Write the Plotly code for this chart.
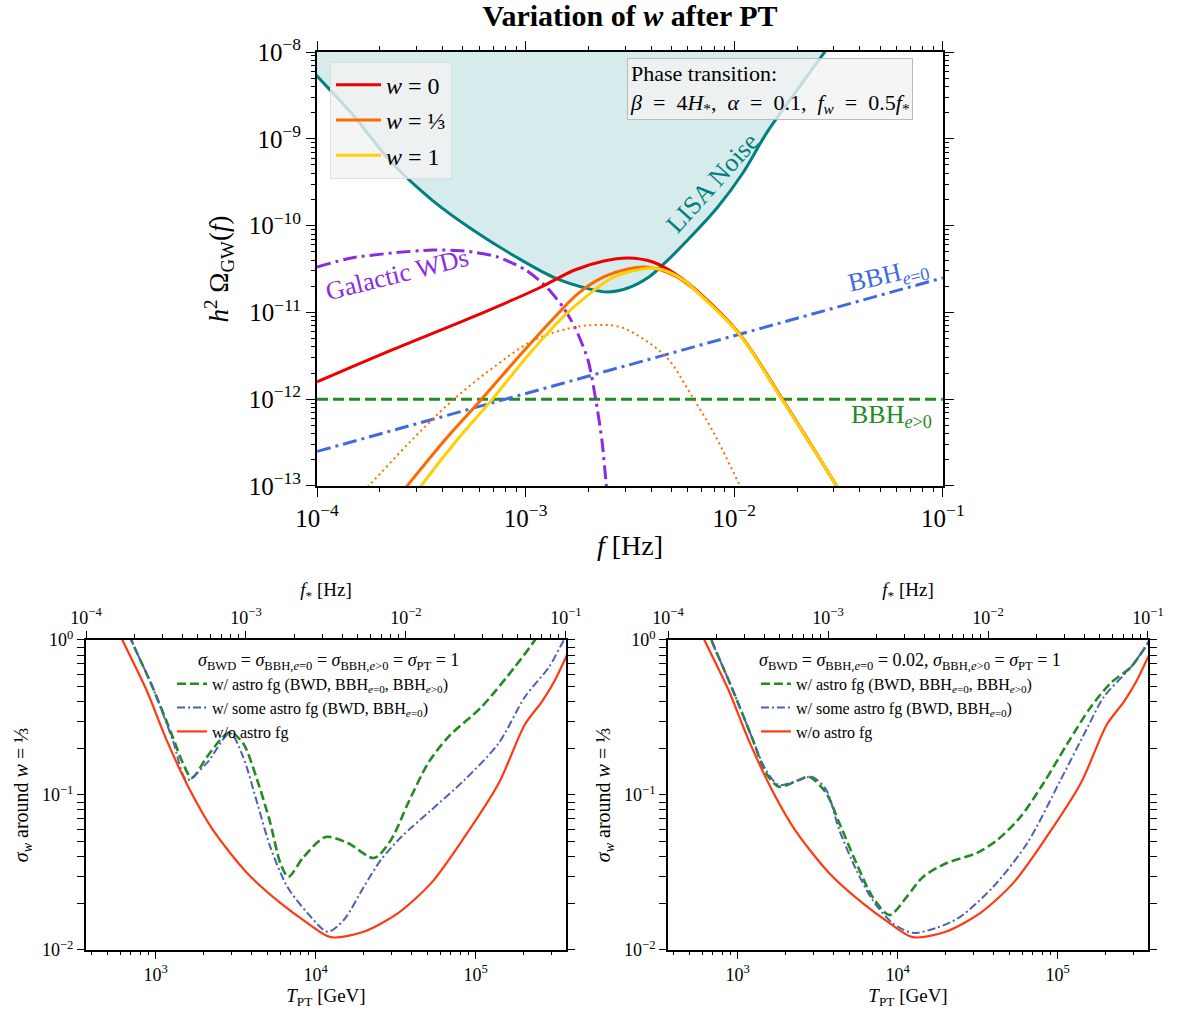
import plotly.graph_objects as go

# ---- top panel: h^2 Omega_GW(f) for different w after the PT ----
f_w0 = [1e-4, 2.29e-4, 5.59e-4, 1.16e-3, 1.72e-3, 2.37e-3, 3.09e-3, 4.07e-3, 5.31e-3,
        6.84e-3, 1.05e-2, 1.71e-2, 3.1e-2, 3.5e-2]
om_w0 = [1.58e-12, 3.69e-12, 8.85e-12, 1.91e-11, 3.08e-11, 3.91e-11, 4.23e-11, 3.81e-11, 2.70e-11,
         1.66e-11, 5.8e-12, 9.8e-13, 1.0e-13, 6.3e-14]

f_w13 = [2.5e-4, 2.73e-4, 4.10e-4, 6.10e-4, 9.6e-4, 1.38e-3, 1.80e-3, 2.37e-3, 3.09e-3, 3.73e-3,
         4.45e-3, 5.31e-3, 6.84e-3, 1.05e-2, 1.71e-2, 3.1e-2, 3.5e-2]
om_w13 = [7.9e-14, 1.03e-13, 3.39e-13, 9.8e-13, 3.40e-12, 8.85e-12, 1.68e-11, 2.56e-11, 3.16e-11, 3.33e-11,
          3.08e-11, 2.56e-11, 1.62e-11, 5.75e-12, 9.7e-13, 1.0e-13, 6.3e-14]

f_w1 = [2.9e-4, 3.18e-4, 4.69e-4, 6.75e-4, 1.05e-3, 1.51e-3, 1.99e-3, 2.59e-3, 3.41e-3, 4.07e-3,
        4.86e-3, 5.8e-3, 6.84e-3, 1.05e-2, 1.71e-2, 3.1e-2, 3.5e-2]
om_w1 = [7.5e-14, 1.03e-13, 3.39e-13, 9.3e-13, 3.40e-12, 8.85e-12, 1.58e-11, 2.49e-11, 3.08e-11, 3.25e-11,
         2.92e-11, 2.3e-11, 1.6e-11, 5.7e-12, 9.6e-13, 1.0e-13, 6.3e-14]

f_w13_dot = [1.6e-4, 1.82e-4, 2.85e-4, 4.49e-4, 7.05e-4, 1.10e-3, 1.65e-3, 2.17e-3, 2.83e-3, 3.73e-3,
             4.86e-3, 6.13e-3, 7.98e-3, 1.05e-2, 1.15e-2]
om_w13_dot = [7.9e-14, 1.08e-13, 3.39e-13, 9.8e-13, 2.35e-12, 4.81e-12, 6.61e-12, 7.16e-12, 6.79e-12, 4.81e-12,
              2.83e-12, 1.18e-12, 4.08e-13, 1.08e-13, 7e-14]

f_gwd = [1e-4, 1.46e-4, 2.29e-4, 3.56e-4, 5.12e-4, 7.36e-4, 1.00e-3, 1.26e-3, 1.51e-3, 1.72e-3,
         1.99e-3, 2.17e-3, 2.32e-3, 2.43e-3, 2.5e-3]
om_gwd = [3.33e-11, 4.24e-11, 4.83e-11, 5.24e-11, 5.09e-11, 4.34e-11, 3.08e-11, 1.96e-11, 1.15e-11, 6.79e-12,
          2.83e-12, 9.8e-13, 3.39e-13, 1.08e-13, 5e-14]

f_lisa = [9e-5, 1.01e-4, 1.46e-4, 2.29e-4, 3.56e-4, 5.59e-4, 8.79e-4, 1.38e-3, 1.99e-3, 2.48e-3,
          3.09e-3, 3.90e-3, 4.65e-3, 5.79e-3, 8.34e-3, 1.10e-2, 1.43e-2, 1.89e-2, 2.69e-2, 3.0e-2]
om_lisa = [7e-9, 5.15e-9, 1.98e-9, 5.26e-10, 1.97e-10, 8.9e-11, 4.5e-11, 2.5e-11, 1.88e-11, 1.72e-11,
           1.91e-11, 2.56e-11, 3.71e-11, 6.3e-11, 1.64e-10, 4.04e-10, 1.17e-9, 3.03e-9, 9.7e-9, 1.39e-8]
om_lisa_cap = 1e-6  # fill goes up past the top of the axis

f_bbh = [1e-4, 1e-1]
om_bbh_e0 = [2.5e-13, 2.5e-11]
om_bbh_ecc = [1e-12, 1e-12]

# ---- bottom panels: sigma_w vs T_PT ----
t_nofg = [560, 620, 877, 1172, 1636, 2281, 3730, 6020, 8910, 12420, 20000, 32800, 52900, 85300,
          139600, 203300, 260000, 314000, 373000, 400000]
sig_nofg = [1.26, 1.0, 0.476, 0.226, 0.108, 0.0595, 0.0314, 0.0201, 0.0149, 0.0121, 0.0131, 0.0173,
            0.0271, 0.0536, 0.119, 0.285, 0.40, 0.552, 0.80, 0.92]

t_some_l = [650, 706, 957, 1279, 1567, 2094, 2920, 3524, 4316, 5210, 6670, 8910, 11900, 15000, 20000,
            25600, 34300, 52900, 85300, 139600, 203300, 288000, 357000, 400000]
sig_some_l = [1.3, 1.0, 0.497, 0.226, 0.125, 0.161, 0.251, 0.176, 0.0888, 0.0462, 0.0255, 0.0173, 0.0131,
              0.0156, 0.0255, 0.0381, 0.0536, 0.080, 0.125, 0.216, 0.429, 0.67, 1.0, 1.2]

t_all_l = [650, 706, 957, 1279, 1479, 1683, 2094, 2530, 2920, 3524, 4316, 5210, 6020, 6760, 8410, 11560,
           15900, 23200, 29600, 37900, 50600, 67600, 109000, 176000, 235000, 260000]
sig_all_l = [1.3, 1.0, 0.497, 0.237, 0.161, 0.129, 0.176, 0.226, 0.255, 0.216, 0.125, 0.066, 0.0364, 0.0296,
             0.0398, 0.0536, 0.049, 0.0392, 0.0513, 0.0888, 0.161, 0.237, 0.370, 0.67, 1.0, 1.2]

t_some_r = [650, 686, 916, 1225, 1500, 1811, 2420, 2920, 3575, 4316, 5520, 6970, 9300, 12420, 17600,
            24500, 39500, 64700, 104400, 154500, 194500, 288000, 368000, 400000]
sig_some_r = [1.2, 1.0, 0.497, 0.237, 0.145, 0.116, 0.125, 0.131, 0.108, 0.0595, 0.0328, 0.0210, 0.0149,
              0.0129, 0.0139, 0.0163, 0.0255, 0.049, 0.125, 0.275, 0.429, 0.67, 0.96, 1.1]

t_all_r = [650, 686, 916, 1225, 1500, 1811, 2420, 2800, 3575, 4316, 5520, 6970, 8910, 11400, 14400, 20300,
           31400, 42000, 58500, 81600, 115600, 161400, 215000, 288000, 368000, 400000]
sig_all_r = [1.2, 1.0, 0.497, 0.237, 0.139, 0.113, 0.125, 0.131, 0.103, 0.066, 0.0364, 0.022, 0.0168, 0.022,
             0.0296, 0.0364, 0.0423, 0.0513, 0.072, 0.119, 0.216, 0.370, 0.528, 0.67, 0.96, 1.1]

f_star_range = [1e-4, 1e-1]

FONT = "Liberation Serif"
RED, ORANGE, GOLD = "#ee0000", "#ff6a00", "#ffd000"
TEAL, PURPLE, BLUE, GREEN = "#008080", "#8a2be2", "#4169e1", "#228b22"
B_GREEN, B_BLUE, B_RED = "#228b22", "#4a62b4", "#ff3a10"

fig = go.Figure()

# LISA noise band
fig.add_trace(go.Scatter(x=f_lisa + [f_lisa[-1], f_lisa[0]], y=om_lisa + [om_lisa_cap, om_lisa_cap],
                         fill="toself", fillcolor="rgba(0,128,128,0.16)", line=dict(width=0),
                         mode="lines", showlegend=False, hoverinfo="skip"))
fig.add_trace(go.Scatter(x=f_lisa, y=om_lisa, mode="lines", line=dict(color=TEAL, width=3, shape="spline"),
                         showlegend=False))
fig.add_trace(go.Scatter(x=f_bbh, y=om_bbh_ecc, mode="lines", line=dict(color=GREEN, width=3, dash="11px,5px"),
                         showlegend=False))
fig.add_trace(go.Scatter(x=f_bbh, y=om_bbh_e0, mode="lines",
                         line=dict(color=BLUE, width=3, dash="14px,5px,3px,5px"), showlegend=False))
fig.add_trace(go.Scatter(x=f_gwd, y=om_gwd, mode="lines",
                         line=dict(color=PURPLE, width=3, dash="14px,5px,3px,5px", shape="spline", smoothing=0.7),
                         showlegend=False))
fig.add_trace(go.Scatter(x=f_w13_dot, y=om_w13_dot, mode="lines",
                         line=dict(color=ORANGE, width=2, dash="2px,3.5px", shape="spline"), showlegend=False))
fig.add_trace(go.Scatter(x=f_w0, y=om_w0, mode="lines", name="<i>w</i> = 0", legendgroup="a",
                         line=dict(color=RED, width=3, shape="spline")))
fig.add_trace(go.Scatter(x=f_w13, y=om_w13, mode="lines", name="<i>w</i> = ⅓", legendgroup="b",
                         line=dict(color=ORANGE, width=3, shape="spline")))
fig.add_trace(go.Scatter(x=f_w1, y=om_w1, mode="lines", name="<i>w</i> = 1", legendgroup="c",
                         line=dict(color=GOLD, width=3, shape="spline")))

# bottom panels
for xa, ya, leg, ts, ss, ta, sa in [("x2", "y2", "legend2", t_some_l, sig_some_l, t_all_l, sig_all_l),
                                     ("x3", "y3", "legend3", t_some_r, sig_some_r, t_all_r, sig_all_r)]:
    fig.add_trace(go.Scatter(x=ta, y=sa, xaxis=xa, yaxis=ya, legend=leg, mode="lines",
                             name="w/ astro fg (BWD, BBH<sub><i>e</i>=0</sub>, BBH<sub><i>e</i>&gt;0</sub>)",
                             line=dict(color=B_GREEN, width=2.6, dash="9px,4px", shape="spline", smoothing=0.8)))
    fig.add_trace(go.Scatter(x=ts, y=ss, xaxis=xa, yaxis=ya, legend=leg, mode="lines",
                             name="w/ some astro fg (BWD, BBH<sub><i>e</i>=0</sub>)",
                             line=dict(color=B_BLUE, width=2, dash="8px,3px,2px,3px", shape="spline", smoothing=0.8)))
    fig.add_trace(go.Scatter(x=t_nofg, y=sig_nofg, xaxis=xa, yaxis=ya, legend=leg, mode="lines",
                             name="w/o astro fg",
                             line=dict(color=B_RED, width=2.2, shape="spline", smoothing=0.8)))

# invisible traces so the f_* axes exist
for xa, ya in [("x4", "y2"), ("x5", "y3")]:
    fig.add_trace(go.Scatter(x=f_star_range, y=[0.1, 0.1], xaxis=xa, yaxis=ya, mode="markers",
                             marker=dict(opacity=0), showlegend=False, hoverinfo="skip"))


def minor_vals(lo, hi):
    return [k * 10.0 ** n for n in range(lo, hi) for k in range(2, 10)]


def pow_text(n):
    return "10<sup>" + ("−" if n < 0 else "") + str(abs(n)) + "</sup>"


def log_axis(lo, hi, size, mirror, ticklen=8):
    return dict(type="log", showline=True, linewidth=2, linecolor="black", mirror=mirror,
                ticks="outside", ticklen=ticklen, tickwidth=1.3, tickcolor="black",
                tickvals=[10.0 ** n for n in range(lo, hi + 1)], ticktext=[pow_text(n) for n in range(lo, hi + 1)],
                minor=dict(tickmode="array", tickvals=minor_vals(lo, hi), ticks="outside",
                           ticklen=ticklen / 2, tickwidth=1, tickcolor="black"),
                tickfont=dict(size=size), showgrid=False, zeroline=False, automargin=False)


top_x = log_axis(-4, -1, 25, "allticks", 9)
top_x.update(range=[-4, -1], domain=[0.268, 0.797], anchor="y",
             title=dict(text="<i>f</i> [Hz]", font=dict(size=28), standoff=4))
top_y = log_axis(-13, -8, 25, "allticks", 9)
top_y.update(range=[-13, -8], domain=[0.5198, 0.9486], anchor="x",
             title=dict(text="<i>h</i><sup>2</sup> Ω<sub>GW</sub>(<i>f</i>)", font=dict(size=27), standoff=12))

layout_axes = dict(xaxis=top_x, yaxis=top_y)
for i, dom in [(2, [0.0727, 0.4784]), (3, [0.5647, 0.9704])]:
    bx = log_axis(2, 6, 18, False, 7)
    bx.update(range=[2.565, 5.565], domain=dom, anchor=f"y{i}",
              title=dict(text="<i>T</i><sub>PT</sub> [GeV]", font=dict(size=19), standoff=2))
    by = log_axis(-2, 0, 18, "allticks", 7)
    by.update(range=[-2, 0], domain=[0.0613, 0.3676], anchor=f"x{i}",
              title=dict(text="<i>σ<sub>w</sub></i> around <i>w</i> = ⅓", font=dict(size=20), standoff=8))
    fx = log_axis(-4, -1, 18, False, 7)
    fx.update(range=[-4, -1], overlaying=f"x{i}", side="top", anchor=f"y{i}",
              title=dict(text="<i>f</i><sub>*</sub> [Hz]", font=dict(size=19), standoff=4))
    layout_axes[f"xaxis{i}"] = bx
    layout_axes[f"yaxis{i}"] = by
    layout_axes[f"xaxis{i + 2}"] = fx

fig.update_layout(**layout_axes)

EQ = "&nbsp; = &nbsp;"
sigma_all = ("<i>σ</i><sub>BWD</sub> = <i>σ</i><sub>BBH,<i>e</i>=0</sub> = <i>σ</i><sub>BBH,<i>e</i>&gt;0</sub>"
             " = <i>σ</i><sub>PT</sub> = 1")
sigma_mix = ("<i>σ</i><sub>BWD</sub> = <i>σ</i><sub>BBH,<i>e</i>=0</sub> = 0.02, "
             "<i>σ</i><sub>BBH,<i>e</i>&gt;0</sub> = <i>σ</i><sub>PT</sub> = 1")
pt_text = ("Phase transition:<br><i>β</i>" + EQ + "4<i>H</i><sub>*</sub>, &nbsp;<i>α</i>" + EQ + "0.1, &nbsp;"
           "<i>f<sub>w</sub></i>" + EQ + "0.5<i>f</i><sub>*</sub>")


def label(text, px, py, size, color="black", angle=0):
    # position given in page pixels of the 1183x1012 canvas
    return dict(text=text, x=px / 1183, y=1 - py / 1012, xref="paper", yref="paper",
                xanchor="center", yanchor="middle", showarrow=False, textangle=angle,
                font=dict(size=size, color=color))


fig.update_layout(
    width=1183, height=1012, margin=dict(l=0, r=0, t=0, b=0),
    paper_bgcolor="white", plot_bgcolor="white",
    font=dict(family=FONT, color="black"),
    title=dict(text="<b>Variation of <i>w</i> after PT</b>", font=dict(size=30),
               x=0.5326, y=0.985, xanchor="center", yanchor="middle"),
    legend=dict(x=0.279, y=0.939, xanchor="left", yanchor="top", font=dict(size=24),
                bgcolor="rgba(243,243,243,0.8)", bordercolor="#dddddd", borderwidth=1,
                tracegroupgap=1, itemwidth=45),
    legend2=dict(x=0.1454, y=0.341, xanchor="left", yanchor="top", font=dict(size=16),
                 bgcolor="rgba(0,0,0,0)", borderwidth=0, tracegroupgap=0),
    legend3=dict(x=0.639, y=0.341, xanchor="left", yanchor="top", font=dict(size=16),
                 bgcolor="rgba(0,0,0,0)", borderwidth=0, tracegroupgap=0),
    annotations=[
        label("Galactic WDs", 397, 274, 26, PURPLE, -14),
        label("LISA Noise", 713, 183, 26, TEAL, -48),
        label("BBH<sub><i>e</i>=0</sub>", 888, 276, 26, BLUE, -13),
        label("BBH<sub><i>e</i>&gt;0</sub>", 891, 416, 26, GREEN),
        dict(text=pt_text, x=0.5300, y=0.9427, xref="paper", yref="paper", xanchor="left", yanchor="top",
             align="left", showarrow=False, font=dict(size=22),
             bgcolor="rgba(243,243,243,0.8)", bordercolor="#bbbbbb", borderwidth=1, borderpad=2),
        label(sigma_all, 328, 661, 18),
        label(sigma_mix, 910, 661, 18),
    ],
)

fig.write_html("out.html", config={"displayModeBar": False},
               post_script="document.body.style.margin='0';document.body.style.overflow='hidden';")
